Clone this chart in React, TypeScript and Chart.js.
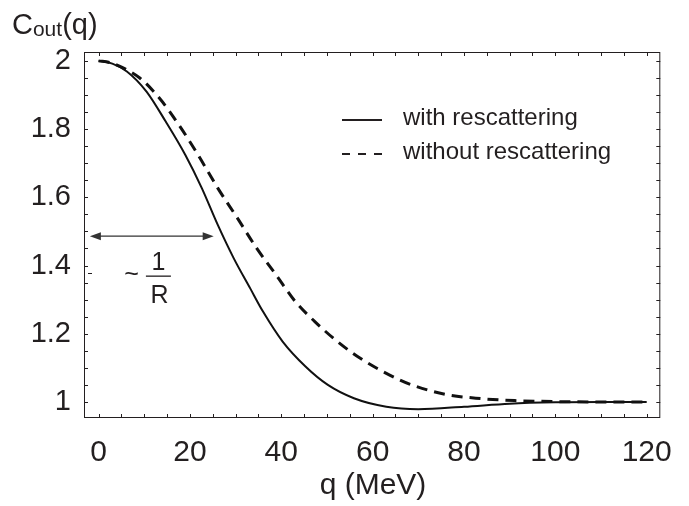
import React, { useEffect, useRef } from 'react';
import { Chart, registerables } from 'chart.js';

Chart.register(...registerables);

// Momentum q (MeV) and correlation C_out(q)
const qWith = [0, 3, 6.2, 10.5, 14.7, 19.0, 22.6, 26.1, 29.6, 33.2, 36.0, 40.3, 45.3, 50.2, 55.9, 63.0, 70, 80, 90, 100, 110, 120];
const cWith = [2.0, 1.992, 1.969, 1.91, 1.822, 1.724, 1.627, 1.519, 1.421, 1.333, 1.265, 1.177, 1.104, 1.05, 1.011, 0.986, 0.979, 0.986, 0.995, 0.999, 1.0, 1.0];

const qWithout = [0, 2.5, 4.8, 9.1, 13.3, 17.6, 21.8, 26.1, 30.4, 34.6, 38.9, 43.1, 47.4, 52.3, 57.3, 63.0, 68.6, 76.1, 83.6, 91.1, 100.5, 110, 120];
const cWithout = [2.0, 1.995, 1.983, 1.949, 1.891, 1.812, 1.724, 1.627, 1.539, 1.451, 1.372, 1.294, 1.235, 1.177, 1.128, 1.084, 1.05, 1.022, 1.01, 1.004, 1.001, 1.0, 1.0];

const xTickValues = [0, 20, 40, 60, 80, 100, 120];
const yTickValues = [1, 1.2, 1.4, 1.6, 1.8, 2];
const seriesLabels = ['with rescattering', 'without rescattering'];
const xAxisTitle = 'q (MeV)';

const FONT = '"Liberation Sans", Arial, Helvetica, sans-serif';
const INK = '#231f20';

export default function App() {
  const ref = useRef<HTMLCanvasElement>(null);

  useEffect(() => {
    document.body.style.margin = '0';
    const canvas = ref.current;
    if (!canvas) return;

    const decor = {
      id: 'decor',
      afterDraw(chart: any) {
        const { ctx, chartArea: a, scales } = chart;
        const x = scales.x;
        const y = scales.y;
        ctx.save();
        // frame
        ctx.strokeStyle = INK;
        ctx.lineWidth = 1;
        ctx.strokeRect(a.left + 0.5, a.top + 0.5, a.right - a.left - 1, a.bottom - a.top - 1);
        // inward ticks
        ctx.beginPath();
        for (let v = 0; v <= 120; v += 5) {
          const px = Math.round(x.getPixelForValue(v)) + 0.5;
          ctx.moveTo(px, a.bottom);
          ctx.lineTo(px, a.bottom - 4);
          ctx.moveTo(px, a.top);
          ctx.lineTo(px, a.top + 4);
        }
        for (let k = 20; k <= 40; k++) {
          const py = Math.round(y.getPixelForValue(k * 0.05)) + 0.5;
          ctx.moveTo(a.left, py);
          ctx.lineTo(a.left + 4, py);
          ctx.moveTo(a.right, py);
          ctx.lineTo(a.right - 4, py);
        }
        ctx.stroke();

        // small stray mark near left axis
        const sy = Math.round(y.getPixelForValue(1.378)) + 0.5;
        ctx.beginPath();
        ctx.moveTo(a.left + 4, sy);
        ctx.lineTo(a.left + 8, sy);
        ctx.stroke();

        ctx.fillStyle = INK;
        // y title C_out(q)
        ctx.textBaseline = 'alphabetic';
        ctx.textAlign = 'left';
        ctx.font = `29px ${FONT}`;
        let tx = 12;
        ctx.fillText('C', tx, 34);
        tx += ctx.measureText('C').width;
        ctx.font = `21px ${FONT}`;
        ctx.fillText('out', tx, 36);
        tx += ctx.measureText('out').width;
        ctx.font = `29px ${FONT}`;
        ctx.fillText('(q)', tx, 34);

        // x title
        ctx.textAlign = 'center';
        ctx.font = `30px ${FONT}`;
        ctx.fillText(xAxisTitle, 373, 494);

        // legend
        const lx0 = 342, lx1 = 382, tx0 = 403;
        const lineRows = [120, 154];
        const textRows = [118, 152];
        ctx.lineWidth = 2;
        ctx.strokeStyle = INK;
        ctx.beginPath();
        ctx.moveTo(lx0, lineRows[0]);
        ctx.lineTo(lx1, lineRows[0]);
        ctx.stroke();
        ctx.setLineDash([8, 8]);
        ctx.beginPath();
        ctx.moveTo(lx0, lineRows[1]);
        ctx.lineTo(lx1, lineRows[1]);
        ctx.stroke();
        ctx.setLineDash([]);
        ctx.textAlign = 'left';
        ctx.textBaseline = 'middle';
        ctx.font = `24px ${FONT}`;
        ctx.fillText(seriesLabels[0], tx0, textRows[0]);
        ctx.fillText(seriesLabels[1], tx0, textRows[1]);

        // double arrow ~ 1/R
        const ay = y.getPixelForValue(1.486);
        const ax0 = x.getPixelForValue(-1.9);
        const ax1 = x.getPixelForValue(25.2);
        ctx.strokeStyle = '#333';
        ctx.fillStyle = '#333';
        ctx.lineWidth = 1.3;
        ctx.beginPath();
        ctx.moveTo(ax0 + 6, ay);
        ctx.lineTo(ax1 - 6, ay);
        ctx.stroke();
        ctx.beginPath();
        ctx.moveTo(ax0, ay);
        ctx.lineTo(ax0 + 11, ay - 4);
        ctx.lineTo(ax0 + 11, ay + 4);
        ctx.closePath();
        ctx.fill();
        ctx.beginPath();
        ctx.moveTo(ax1, ay);
        ctx.lineTo(ax1 - 11, ay - 4);
        ctx.lineTo(ax1 - 11, ay + 4);
        ctx.closePath();
        ctx.fill();

        const fx = x.getPixelForValue(13.1);
        const fy = y.getPixelForValue(1.369);
        ctx.fillStyle = INK;
        ctx.textAlign = 'center';
        ctx.textBaseline = 'middle';
        ctx.font = `25px ${FONT}`;
        ctx.fillText('~', x.getPixelForValue(7.2), fy - 1);
        ctx.textBaseline = 'alphabetic';
        ctx.fillText('1', fx, fy - 6);
        ctx.fillText('R', fx + 1, fy + 27);
        ctx.fillRect(fx - 12.5, Math.round(fy) - 0.5, 25, 1.3);
        ctx.restore();
      },
    };

    const chart = new Chart(canvas, {
      type: 'line',
      data: {
        datasets: [
          {
            label: seriesLabels[0],
            data: qWith.map((q, i) => ({ x: q, y: cWith[i] })),
            borderColor: '#111',
            borderWidth: 2,
            pointRadius: 0,
            fill: false,
            cubicInterpolationMode: 'monotone',
          },
          {
            label: seriesLabels[1],
            data: qWithout.map((q, i) => ({ x: q, y: cWithout[i] })),
            borderColor: '#111',
            borderWidth: 3,
            borderDash: [11, 7],
            pointRadius: 0,
            fill: false,
            cubicInterpolationMode: 'monotone',
          },
        ],
      },
      options: {
        responsive: false,
        maintainAspectRatio: false,
        animation: false,
        devicePixelRatio: 1,
        layout: { padding: { left: 0, right: 12, top: 52, bottom: 0 } },
        plugins: { legend: { display: false }, tooltip: { enabled: false }, title: { display: false } },
        scales: {
          x: {
            type: 'linear',
            min: -3.19,
            max: 122.98,
            afterBuildTicks: (s: any) => {
              s.ticks = xTickValues.map((v) => ({ value: v }));
            },
            afterFit: (s: any) => {
              s.height = 88;
            },
            grid: { display: false, drawTicks: false },
            border: { display: false },
            ticks: {
              color: INK,
              font: { family: FONT, size: 30 },
              padding: 17,
              maxRotation: 0,
              autoSkip: false,
              callback: (v: any) => String(v),
            },
          },
          y: {
            type: 'linear',
            min: 0.953,
            max: 2.026,
            afterBuildTicks: (s: any) => {
              s.ticks = yTickValues.map((v) => ({ value: v }));
            },
            afterFit: (s: any) => {
              s.width = 84;
            },
            grid: { display: false, drawTicks: false },
            border: { display: false },
            ticks: {
              color: INK,
              font: { family: FONT, size: 29 },
              padding: 13,
              autoSkip: false,
              callback: (v: any) => String(Math.round(v * 10) / 10),
            },
          },
        },
      },
      plugins: [decor],
    });

    return () => chart.destroy();
  }, []);

  return (
    <div style={{ position: 'absolute', left: 0, top: 0, width: 689, height: 506 }}>
      <canvas ref={ref} width={689} height={506} style={{ display: 'block' }} />
    </div>
  );
}
